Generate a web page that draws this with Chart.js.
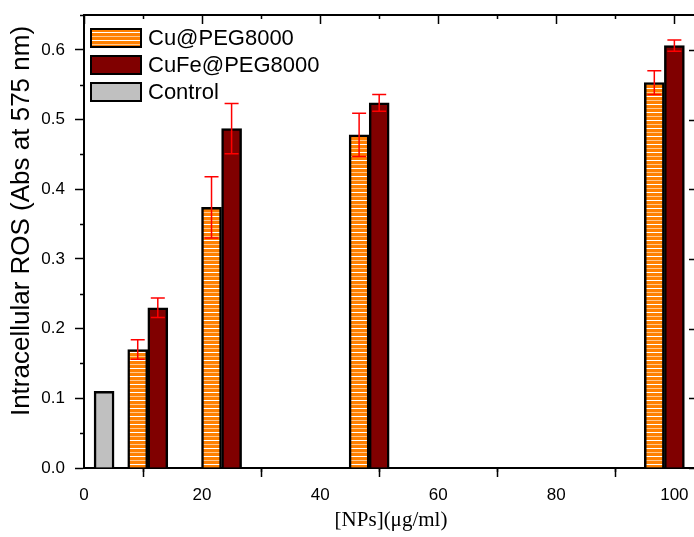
<!DOCTYPE html>
<html>
<head>
<meta charset="utf-8">
<script src="https://cdn.jsdelivr.net/npm/chart.js@4.4.1/dist/chart.umd.min.js"></script>
<style>
  html, body { margin: 0; padding: 0; background: #fff; overflow: hidden; }
  #wrap { width: 698px; height: 537px; position: relative; }
</style>
</head>
<body>
<div id="wrap"><canvas id="rosChart"></canvas></div>
<script>
// concentrations where each bar sits on the x axis
const cuX = [9.1, 21.6, 46.6, 96.6];
const cuFeX = [12.5, 25, 50, 100];
const controlX = [3.4];

// intracellular ROS values and error bars
const cuValues = [0.170, 0.374, 0.478, 0.553];
const cuErrors = [0.014, 0.044, 0.031, 0.017];
const cuFeValues = [0.230, 0.487, 0.524, 0.606];
const cuFeErrors = [0.014, 0.036, 0.012, 0.008];
const controlValues = [0.11];

const xTicks = [0, 20, 40, 60, 80, 100];
const yTicks = [0.0, 0.1, 0.2, 0.3, 0.4, 0.5, 0.6];

const toPoints = (xs, ys) => xs.map((x, i) => ({ x: x, y: ys[i] }));

// striped orange fill for the Cu bars
function makeStripes() {
    const c = document.createElement('canvas');
    c.width = 8; c.height = 8;
    const g = c.getContext('2d');
    g.fillStyle = '#FF8000';
    g.fillRect(0, 0, 8, 8);
    g.fillStyle = '#FFFFFF';
    g.fillRect(0, 0, 8, 1);
    g.fillStyle = '#FFC890';
    g.fillRect(0, 4, 8, 1);
    return g.createPattern(c, 'repeat');
}
const stripes = makeStripes();

// red error bars, drawn through the scales
const errorBars = {
    id: 'errorBars',
    afterDatasetsDraw(chart) {
        const { ctx, scales: { x, y } } = chart;
        const sets = [[cuX, cuValues, cuErrors], [cuFeX, cuFeValues, cuFeErrors]];
        ctx.save();
        ctx.strokeStyle = '#FF0000';
        ctx.lineWidth = 1.5;
        sets.forEach(([xs, vals, errs]) => {
            xs.forEach((xv, i) => {
                const px = x.getPixelForValue(xv);
                const top = y.getPixelForValue(vals[i] + errs[i]);
                const bot = y.getPixelForValue(vals[i] - errs[i]);
                ctx.beginPath();
                ctx.moveTo(px, top); ctx.lineTo(px, bot);
                ctx.moveTo(px - 7, top); ctx.lineTo(px + 7, top);
                ctx.moveTo(px - 7, bot); ctx.lineTo(px + 7, bot);
                ctx.stroke();
            });
        });
        ctx.restore();
    }
};

// frame on top/right plus minor ticks, like the Origin-style axes
const frameTicks = {
    id: 'frameTicks',
    afterDraw(chart) {
        const { ctx, chartArea: a, scales: { x, y } } = chart;
        ctx.save();
        ctx.strokeStyle = '#000';
        ctx.lineWidth = 2;
        ctx.beginPath();
        ctx.moveTo(a.left - 1, a.top); ctx.lineTo(a.right, a.top);
        ctx.moveTo(a.right, a.top); ctx.lineTo(a.right, a.bottom);
        ctx.stroke();
        ctx.lineWidth = 1.5;
        ctx.beginPath();
        for (let v = 0; v <= 104; v += 10) {
            const px = Math.round(x.getPixelForValue(v)) + 0.5;
            const major = v % 20 === 0;
            const len = major ? 9 : 4;
            if (!major) { ctx.moveTo(px, a.bottom); ctx.lineTo(px, a.bottom + len); }
            ctx.moveTo(px, a.top); ctx.lineTo(px, a.top + len);
        }
        for (let k = 0; k <= 13; k++) {
            const v = k * 0.05;
            const py = Math.round(y.getPixelForValue(v)) + 0.5;
            const major = k % 2 === 0;
            const len = major ? 9 : 4;
            if (!major) { ctx.moveTo(a.left, py); ctx.lineTo(a.left - len, py); }
            ctx.moveTo(a.right, py); ctx.lineTo(a.right - len, py);
        }
        ctx.stroke();
        ctx.restore();
    }
};

// legend box inside the plot, top-left, plus the y title a bit above centre
const insideLegend = {
    id: 'insideLegend',
    afterDraw(chart) {
        const { ctx, chartArea: a } = chart;
        ctx.save();
        ctx.font = '22px "Liberation Sans", Arial';
        ctx.textBaseline = 'middle';
        chart.data.datasets.forEach((ds, i) => {
            const bx = a.left + 7, by = a.top + 14 + i * 27;
            ctx.fillStyle = ds.backgroundColor;
            ctx.fillRect(bx, by, 50, 18);
            ctx.strokeStyle = '#000';
            ctx.lineWidth = 2;
            ctx.strokeRect(bx, by, 50, 18);
            ctx.fillStyle = '#000';
            ctx.fillText(ds.label, bx + 57, by + 10);
        });
        ctx.translate(22, 221);
        ctx.rotate(-Math.PI / 2);
        ctx.textAlign = 'center';
        ctx.font = '26px "Liberation Sans", Arial';
        ctx.fillText('Intracellular ROS (Abs at 575 nm)', 0, 0);
        ctx.restore();
    }
};

new Chart(document.getElementById('rosChart'), {
    type: 'bar',
    data: {
        datasets: [
            { label: 'Cu@PEG8000', data: toPoints(cuX, cuValues), backgroundColor: stripes, borderColor: '#000', borderWidth: 2.5 },
            { label: 'CuFe@PEG8000', data: toPoints(cuFeX, cuFeValues), backgroundColor: '#800000', borderColor: '#000', borderWidth: 2.5 },
            { label: 'Control', data: toPoints(controlX, controlValues), backgroundColor: '#C0C0C0', borderColor: '#000', borderWidth: 2.5 }
        ]
    },
    options: {
        responsive: true,
        maintainAspectRatio: false,
        animation: false,
        grouped: false,
        barThickness: 20,
        layout: { padding: { top: 15, right: 0, left: 0, bottom: 0 } },
        scales: {
            x: {
                type: 'linear',
                min: 0,
                max: 104,
                offset: false,
                afterFit(scale) { scale.height = 69; scale.paddingLeft = 0; scale.paddingRight = 0; },
                afterBuildTicks(scale) { scale.ticks = xTicks.map(v => ({ value: v })); },
                grid: { drawOnChartArea: false, drawTicks: true, tickLength: 9, tickWidth: 1.5, tickColor: '#000' },
                border: { display: true, color: '#000', width: 2 },
                ticks: { color: '#000', padding: 8, font: { family: 'Liberation Sans, Arial', size: 17 } },
                title: { display: true, text: '[NPs](μg/ml)', color: '#000', padding: { top: 9 }, font: { family: 'Liberation Serif, Times New Roman', size: 21 } }
            },
            y: {
                min: 0,
                max: 0.65,
                afterFit(scale) { scale.width = 84; scale.paddingTop = 0; scale.paddingBottom = 0; },
                afterBuildTicks(scale) { scale.ticks = yTicks.map(v => ({ value: v })); },
                grid: { drawOnChartArea: false, drawTicks: true, tickLength: 9, tickWidth: 1.5, tickColor: '#000' },
                border: { display: true, color: '#000', width: 2 },
                ticks: { color: '#000', padding: 10, font: { family: 'Liberation Sans, Arial', size: 17 }, callback: v => v.toFixed(1) },
                title: { display: false }
            }
        },
        plugins: {
            legend: { display: false },
            tooltip: { enabled: false }
        }
    },
    plugins: [errorBars, frameTicks, insideLegend]
});
</script>
</body>
</html>
